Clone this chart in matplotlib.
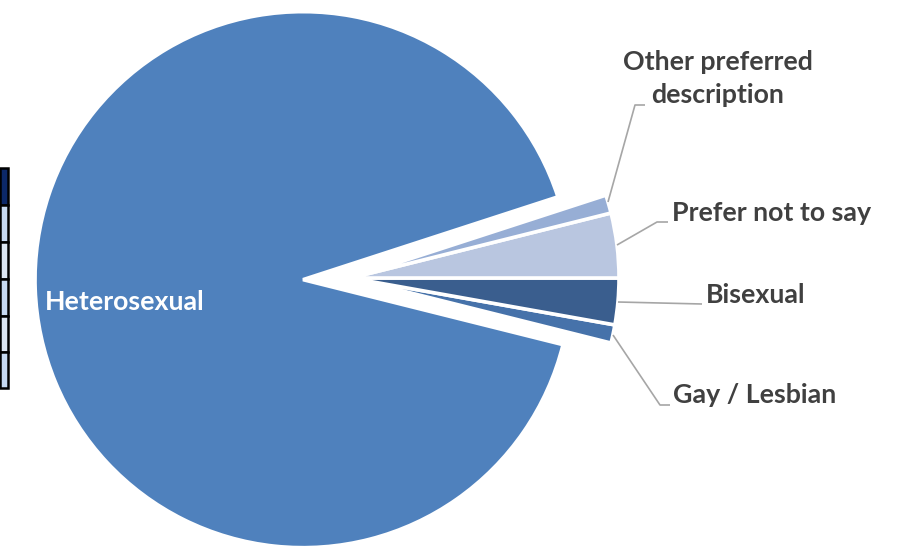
import matplotlib.pyplot as plt

# ---- data ----
labels = ["Heterosexual", "Gay / Lesbian", "Bisexual",
          "Prefer not to say", "Other preferred description"]
shares = [91.1, 1.1, 2.8, 3.9, 1.1]
colors = ["#4F81BD", "#4672AA", "#3A5E8E", "#B9C6E0", "#97AED5"]

W, H = 900, 546
S = 268.0  # pixels per pie radius


def px(x, y):
    """image pixel (y down) -> data units (radius = 1)"""
    return x / S, (H - y) / S


fig = plt.figure(figsize=(W / 100, H / 100), dpi=100)
ax = fig.add_axes([0, 0, 1, 1])

ax.pie(
    shares,
    colors=colors,
    startangle=18,
    counterclock=True,
    center=px(351, 278),
    radius=1.0,
    explode=[48 / S, 0, 0, 0, 0],
    wedgeprops=dict(edgecolor="white", linewidth=2.6),
    frame=True,
)
ax.set_xlim(0, W / S)
ax.set_ylim(0, H / S)
ax.set_aspect("equal")
ax.axis("off")

# ---- cut-off table at the left edge ----
row_edges = [168, 205, 242, 279, 316, 352, 388]
row_fill = ["#0C2868", "#C6D9F1", "#DCE6F2", "#C6D9F1", "#DCE6F2", "#C6D9F1"]
for i, c in enumerate(row_fill):
    x0, y0 = px(0, row_edges[i + 1])
    x1, y1 = px(8, row_edges[i])
    ax.add_patch(plt.Rectangle((x0, y0), x1 - x0, y1 - y0, facecolor=c,
                               edgecolor="black", linewidth=1.8, zorder=3))

# ---- labels with leader lines ----
font = dict(family=["Lato", "DejaVu Sans"], fontweight="bold", fontsize=19.3,
            color="#404040")
lead = dict(color="#A6A6A6", linewidth=1.2, solid_capstyle="butt")

leaders = {
    "Other preferred description": [(608, 202), (635, 105), (645, 105)],
    "Prefer not to say": [(617, 245), (657, 222), (668, 222)],
    "Bisexual": [(618, 302), (702, 304)],
    "Gay / Lesbian": [(613, 335), (660, 405), (670, 405)],
}
text_pos = {
    "Other preferred description": ((718, 78), "center", "Other preferred\ndescription"),
    "Prefer not to say": ((672, 213), "left", "Prefer not to say"),
    "Bisexual": ((706, 295), "left", "Bisexual"),
    "Gay / Lesbian": ((673, 395), "left", "Gay / Lesbian"),
}
for name, pts in leaders.items():
    xs, ys = zip(*[px(*p) for p in pts])
    ax.plot(xs, ys, **lead)
    (tx, ty), ha, txt = text_pos[name]
    ax.text(*px(tx, ty), txt, ha=ha, va="center", linespacing=1.45, **font)

ax.text(*px(125, 302), "Heterosexual", ha="center", va="center",
        **{**font, "color": "white"})

fig.savefig("out.png", dpi=100)
